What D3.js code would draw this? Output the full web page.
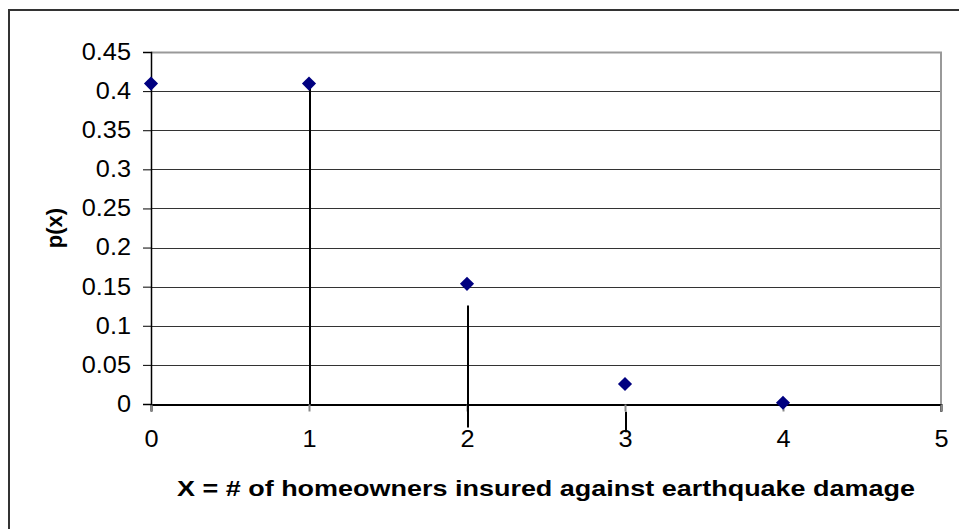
<!DOCTYPE html>
<html>
<head>
<meta charset="utf-8">
<script src="https://cdn.jsdelivr.net/npm/d3@7"></script>
<style>
  body { margin: 0; background: #fff; }
  svg { display: block; }
</style>
</head>
<body>
<svg id="chart" width="959" height="529"></svg>
<script>
const xs = [0, 1, 2, 3, 4];
const px = [0.4096, 0.4096, 0.1536, 0.0256, 0.0016];
const xTicks = [0, 1, 2, 3, 4, 5];
const yTicks = [0, 0.05, 0.1, 0.15, 0.2, 0.25, 0.3, 0.35, 0.4, 0.45];
// hand-drawn drop lines: [x, top, bottom] in data units
const stems = [[1, 0.405, 0], [2, 0.126, -0.03], [3, -0.01, -0.036]];

const width = 959;
const height = 529;
const margin = {top: 52, right: 18, bottom: 125, left: 151};
const font = "Liberation Sans, Arial, sans-serif";

const svg = d3.select("#chart");

const x = d3.scaleLinear([0, 5], [margin.left, width - margin.right]);
const y = d3.scaleLinear([0, 0.45], [height - margin.bottom, margin.top]);

// widen tick labels a little, the original is stretched horizontally
const stretch = sel => sel.each(function() {
  const w = this.getComputedTextLength();
  d3.select(this).attr("textLength", w * 1.1).attr("lengthAdjust", "spacingAndGlyphs");
});

// outer frame (cut off at right and bottom)
svg.append("rect")
  .attr("x", 9).attr("y", 10)
  .attr("width", 980).attr("height", 540)
  .attr("fill", "#fff")
  .attr("stroke", "#333")
  .attr("stroke-width", 2);

// gridlines
svg.append("g")
  .selectAll("line")
  .data(yTicks.filter(d => d > 0 && d < 0.45))
  .join("line")
  .attr("x1", x(0)).attr("x2", x(5))
  .attr("y1", d => Math.round(y(d)) + 0.5).attr("y2", d => Math.round(y(d)) + 0.5)
  .attr("stroke", "#333")
  .attr("stroke-width", 1);

// plot area border (top & right)
svg.append("path")
  .attr("d", `M${x(0)},${Math.round(y(0.45)) + 0.5}H${x(5)}V${y(0) + 8}`)
  .attr("fill", "none")
  .attr("stroke", "#999")
  .attr("stroke-width", 2);

// x axis
const xAxis = svg.append("g")
  .attr("transform", `translate(0,${Math.round(y(0)) + 0.5})`)
  .call(d3.axisBottom(x).tickValues(xTicks).tickFormat(d3.format("d")).tickSize(7).tickPadding(19));
xAxis.select(".domain").attr("stroke", "#000").attr("stroke-width", 2);
xAxis.selectAll(".tick line").attr("stroke", "#888").attr("stroke-width", 2);
xAxis.selectAll("text")
  .attr("font-family", font)
  .attr("font-size", 23)
  .attr("fill", "#000")
  .call(stretch);

// y axis
const yAxis = svg.append("g")
  .attr("transform", `translate(${x(0)},0)`)
  .call(d3.axisLeft(y).tickValues(yTicks).tickFormat(d => d3.format("")(+d.toFixed(2))).tickSize(8).tickPadding(12));
yAxis.select(".domain").attr("stroke", "#000").attr("stroke-width", 1.5);
yAxis.selectAll(".tick line").attr("stroke", "#000");
yAxis.selectAll("text")
  .attr("font-family", font)
  .attr("font-size", 23)
  .attr("fill", "#000")
  .call(stretch);

// drop lines
svg.append("g")
  .selectAll("line")
  .data(stems)
  .join("line")
  .attr("x1", d => x(d[0]) + 1).attr("x2", d => x(d[0]) + 1)
  .attr("y1", d => y(d[1])).attr("y2", d => y(d[2]))
  .attr("stroke", "#000")
  .attr("stroke-width", 2);

// points
svg.append("g")
  .selectAll("path")
  .data(xs)
  .join("path")
  .attr("transform", (d, i) => `translate(${x(d)},${y(px[i])}) rotate(45)`)
  .attr("d", d3.symbol(d3.symbolSquare, 100))
  .attr("fill", "#000080");

// axis titles
svg.append("text")
  .attr("x", (x(0) + x(5)) / 2)
  .attr("y", 496)
  .attr("text-anchor", "middle")
  .attr("font-family", font)
  .attr("font-weight", "bold")
  .attr("font-size", 22)
  .attr("textLength", 738)
  .attr("lengthAdjust", "spacingAndGlyphs")
  .text("X = # of homeowners insured against earthquake damage");

svg.append("text")
  .attr("transform", `translate(62,${(y(0) + y(0.45)) / 2}) rotate(-90)`)
  .attr("text-anchor", "middle")
  .attr("font-family", font)
  .attr("font-weight", "bold")
  .attr("font-size", 22)
  .text("p(x)");
</script>
</body>
</html>
